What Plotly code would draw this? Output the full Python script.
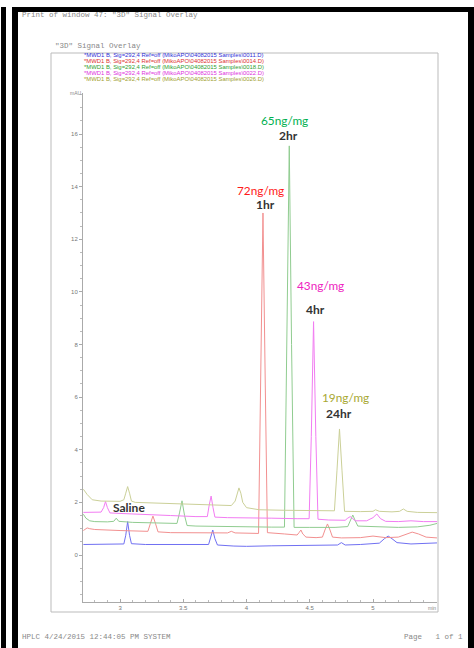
import plotly.graph_objects as go

# ---------------- data ----------------
blue_t = [2.71, 2.85, 2.95, 3.03, 3.045, 3.06, 3.075, 3.09, 3.2, 3.4, 3.6, 3.70, 3.715, 3.733, 3.75, 3.77,
          3.9, 4.0, 4.2, 4.4, 4.6, 4.72, 4.75, 4.78, 4.9, 5.0, 5.05, 5.09, 5.12, 5.15, 5.19, 5.3, 5.4, 5.506]
blue_y = [0.40, 0.40, 0.41, 0.42, 0.75, 1.27, 0.75, 0.43, 0.40, 0.39, 0.38, 0.40, 0.65, 0.95, 0.62, 0.38,
          0.34, 0.33, 0.35, 0.36, 0.36, 0.38, 0.47, 0.38, 0.40, 0.42, 0.45, 0.62, 0.72, 0.62, 0.47, 0.42, 0.44, 0.46]

red_t = [2.71, 2.74, 2.76, 2.8, 3.0, 3.22, 3.24, 3.26, 3.28, 3.30, 3.4, 3.6, 3.85, 3.88, 3.91, 4.095, 4.112,
         4.13, 4.148, 4.165, 4.3, 4.40, 4.415, 4.43, 4.445, 4.47, 4.55, 4.6, 4.62, 4.64, 4.66, 4.68, 4.75,
         4.9, 5.0, 5.1, 5.2, 5.26, 5.31, 5.36, 5.42, 5.506]
red_y = [0.93, 1.03, 1.0, 0.97, 0.93, 0.90, 1.2, 1.48, 1.2, 0.88, 0.85, 0.84, 0.84, 0.90, 0.84, 0.82, 6.5,
         13.0, 6.5, 0.85, 0.80, 0.76, 0.85, 0.95, 0.80, 0.68, 0.66, 0.68, 0.95, 1.18, 0.95, 0.68, 0.65,
         0.66, 0.72, 0.66, 0.68, 0.78, 0.87, 0.80, 0.68, 0.65]

green_t = [2.71, 2.73, 2.76, 2.8, 2.9, 2.95, 2.97, 2.99, 3.1, 3.3, 3.45, 3.47, 3.49, 3.51, 3.53, 3.6, 3.8,
           4.0, 4.2, 4.30, 4.32, 4.338, 4.356, 4.376, 4.5, 4.7, 4.80, 4.82, 4.84, 4.86, 4.88, 5.0, 5.2,
           5.35, 5.45, 5.506]
green_y = [1.55, 1.40, 1.30, 1.27, 1.26, 1.28, 1.40, 1.28, 1.24, 1.22, 1.20, 1.60, 2.06, 1.50, 1.12, 1.10,
           1.08, 1.07, 1.06, 1.06, 8.0, 15.55, 8.0, 1.05, 1.05, 1.05, 1.08, 1.30, 1.52, 1.30, 1.10, 1.08,
           1.05, 1.07, 1.13, 1.20]

mag_t = [2.71, 2.8, 2.85, 2.87, 2.885, 2.90, 2.92, 3.0, 3.2, 3.4, 3.6, 3.69, 3.705, 3.72, 3.735, 3.75,
         3.85, 4.0, 4.2, 4.4, 4.495, 4.512, 4.53, 4.548, 4.565, 4.65, 4.78, 4.80, 4.82, 4.84, 4.86, 4.95,
         5.0, 5.03, 5.06, 5.1, 5.2, 5.3, 5.4, 5.506]
mag_y = [1.62, 1.62, 1.63, 1.80, 2.03, 1.80, 1.60, 1.58, 1.55, 1.50, 1.46, 1.46, 1.90, 2.24, 1.80, 1.44,
         1.42, 1.40, 1.40, 1.38, 1.38, 4.5, 8.87, 4.5, 1.36, 1.33, 1.32, 1.40, 1.46, 1.38, 1.30, 1.30,
         1.42, 1.56, 1.38, 1.28, 1.27, 1.30, 1.27, 1.27]

olive_t = [2.71, 2.74, 2.78, 2.85, 3.0, 3.03, 3.045, 3.06, 3.075, 3.09, 3.12, 3.3, 3.5, 3.7, 3.88, 3.91,
           3.925, 3.94, 3.955, 3.97, 4.0, 4.1, 4.3, 4.5, 4.695, 4.715, 4.735, 4.755, 4.775, 4.9, 5.0,
           5.02, 5.05, 5.15, 5.21, 5.24, 5.27, 5.35, 5.506]
olive_y = [2.50, 2.30, 2.10, 2.05, 2.04, 2.10, 2.35, 2.60, 2.35, 2.05, 2.00, 1.97, 1.92, 1.90, 1.88, 2.05,
           2.35, 2.55, 2.35, 2.00, 1.80, 1.72, 1.70, 1.68, 1.68, 3.2, 4.79, 3.2, 1.66, 1.65, 1.66, 1.72,
           1.66, 1.64, 1.66, 1.75, 1.66, 1.62, 1.61]

legend_lines = [
    "*MWD1 B, Sig=292,4 Ref=off (MikoAPO\\04082015 Samples\\0011.D)",
    "*MWD1 B, Sig=292,4 Ref=off (MikoAPO\\04082015 Samples\\0014.D)",
    "*MWD1 B, Sig=292,4 Ref=off (MikoAPO\\04082015 Samples\\0018.D)",
    "*MWD1 B, Sig=292,4 Ref=off (MikoAPO\\04082015 Samples\\0022.D)",
    "*MWD1 B, Sig=292,4 Ref=off (MikoAPO\\04082015 Samples\\0026.D)",
]
conc_labels = ["72ng/mg", "65ng/mg", "43ng/mg", "19ng/mg"]
time_labels = ["1hr", "2hr", "4hr", "24hr"]
x_ticks = [3, 3.5, 4, 4.5, 5]
x_tick_text = ["3", "3.5", "4", "4.5", "5"]
y_ticks = [0, 2, 4, 6, 8, 10, 12, 14, 16]

# ---------------- styling / layout ----------------
W, H = 474, 648
L, R, T, B = 83, 437, 93, 602          # plot area in pixels
XR = [2.707, 5.506]
YR = [-1.786, 17.56]

def px(x):
    return (x - L) / (R - L)

def py(y):
    return (B - y) / (B - T)

line_cols = ["#7070f2", "#f29090", "#90cc90", "#f27cf2", "#cbd098"]
text_cols = ["#3030d8", "#dd3030", "#30a030", "#dd30dd", "#a0a030"]
series = [(blue_t, blue_y), (red_t, red_y), (green_t, green_y), (mag_t, mag_y), (olive_t, olive_y)]

fig = go.Figure()
for (t, y), c in zip(series, line_cols):
    fig.add_trace(go.Scatter(x=t, y=y, mode="lines", line=dict(color=c, width=1), hoverinfo="skip"))

axis_font = dict(family="Liberation Sans, Arial", size=6, color="#777")
fig.update_layout(
    width=W, height=H, showlegend=False,
    paper_bgcolor="white", plot_bgcolor="white",
    margin=dict(l=L, r=W - R, t=T, b=H - B, pad=0),
    xaxis=dict(range=XR, showgrid=False, zeroline=False, showline=True, linecolor="#aaa", linewidth=1,
               tickvals=x_ticks, ticktext=x_tick_text, ticks="inside", ticklen=3, tickcolor="#aaa",
               tickfont=axis_font, minor=dict(dtick=0.1, tick0=3, ticks="inside", ticklen=2, tickcolor="#bbb")),
    yaxis=dict(range=YR, showgrid=False, zeroline=False, showline=True, linecolor="#aaa", linewidth=1,
               tickvals=y_ticks, ticks="outside", ticklen=3, tickcolor="#aaa",
               tickfont=axis_font, minor=dict(dtick=0.5, tick0=0, ticks="outside", ticklen=2, tickcolor="#bbb")),
)

shapes = []
# chart frame
shapes.append(dict(type="rect", xref="paper", yref="paper", x0=px(51), x1=px(438), y0=py(612), y1=py(53),
                   line=dict(color="#bbb", width=1), fillcolor="rgba(0,0,0,0)", layer="below"))
# black scan borders
for (x0, x1, y0, y1) in [(1, 6, 7, 648), (12, 18, 7, 648), (12, 474, 7, 12), (468, 474, 7, 648)]:
    shapes.append(dict(type="rect", xref="paper", yref="paper", x0=px(x0), x1=px(x1), y0=py(y1), y1=py(y0),
                       line=dict(width=0), fillcolor="black", layer="above"))
fig.update_layout(shapes=shapes)

mono = "Liberation Mono, Courier New, monospace"
ann = []
def page_text(text, x, y, size, color, family, anchor="left", bold=False):
    ann.append(dict(text=("<b>%s</b>" % text) if bold else text, xref="paper", yref="paper",
                    x=px(x), y=py(y), xanchor=anchor, yanchor="middle", showarrow=False,
                    font=dict(size=size, color=color, family=family)))

page_text('Print of window 47: "3D" Signal Overlay', 20, 15, 7.5, "#888", mono)
page_text('"3D" Signal Overlay', 53, 46, 7.5, "#888", mono)
page_text("HPLC 4/24/2015 12:44:05 PM SYSTEM", 20, 637, 7.5, "#888", mono)
page_text("Page   1 of 1", 402, 637, 7.5, "#888", mono)
for i, (txt, c) in enumerate(zip(legend_lines, text_cols)):
    page_text(txt, 82, 55 + 6 * i, 5.9, c, "Liberation Sans, Arial")
page_text("mAU", 76, 93, 5, "#888", "Liberation Sans, Arial", anchor="center")
page_text("min", 432, 608, 5, "#888", "Liberation Sans, Arial", anchor="center")

# peak annotations (data coordinates: minutes, mAU)
conc_pos = [(4.107, 13.87), (4.304, 16.53), (4.581, 10.26), (4.779, 6.0)]
time_pos = [(4.146, 13.34), (4.328, 15.96), (4.542, 9.35), (4.731, 5.36)]
conc_cols = ["#ff1a1a", "#00b050", "#ee22c0", "#a8a832"]
for txt, (x, y), c in zip(conc_labels, conc_pos, conc_cols):
    ann.append(dict(text=txt, x=x, y=y, xref="x", yref="y", showarrow=False, xanchor="center", yanchor="middle",
                    font=dict(family="Lato, Open Sans", size=11.8, color=c)))
for txt, (x, y) in zip(time_labels, time_pos):
    ann.append(dict(text="<b>%s</b>" % txt, x=x, y=y, xref="x", yref="y", showarrow=False, xanchor="center",
                    yanchor="middle", font=dict(family="Lato, Open Sans", size=12, color="#333")))
ann.append(dict(text="<b>Saline</b>", x=3.071, y=1.82, xref="x", yref="y", showarrow=False, xanchor="center",
                yanchor="middle", font=dict(family="Lato, Open Sans", size=12, color="#333")))
fig.update_layout(annotations=ann)

fig.write_html("out.html", config={"displayModeBar": False},
               post_script="document.body.style.margin='0';document.body.style.overflow='hidden';")
